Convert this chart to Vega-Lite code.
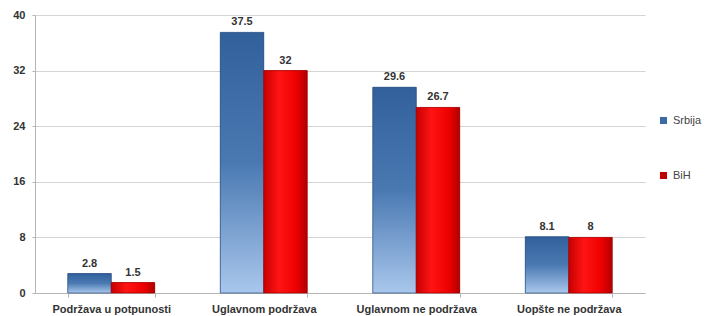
{
  "$schema": "https://vega.github.io/schema/vega-lite/v6.json",
  "width": 610,
  "height": 278,
  "autosize": {"type": "none"},
  "padding": {"left": 35, "top": 15, "right": 60, "bottom": 23},
  "background": "white",
  "config": {
    "view": {"stroke": null},
    "font": "Liberation Sans",
    "axis": {"labelFont": "Liberation Sans", "labelFontWeight": "bold", "labelFontSize": 11, "labelColor": "#333333", "domainColor": "#b5b5b5", "tickColor": "#b5b5b5", "gridColor": "#d4d4d4"}
  },
  "data": {
    "values": [
      {"category": "Podržava u potpunosti", "series": "Srbija", "value": 2.8},
      {"category": "Podržava u potpunosti", "series": "BiH", "value": 1.5},
      {"category": "Uglavnom podržava", "series": "Srbija", "value": 37.5},
      {"category": "Uglavnom podržava", "series": "BiH", "value": 32},
      {"category": "Uglavnom ne podržava", "series": "Srbija", "value": 29.6},
      {"category": "Uglavnom ne podržava", "series": "BiH", "value": 26.7},
      {"category": "Uopšte ne podržava", "series": "Srbija", "value": 8.1},
      {"category": "Uopšte ne podržava", "series": "BiH", "value": 8}
    ]
  },
  "encoding": {
    "x": {
      "field": "category", "type": "nominal", "sort": null, "title": null,
      "scale": {"paddingInner": 0.43, "paddingOuter": 0.215},
      "axis": {"labelAngle": 0, "tickBand": "extent", "tickSize": 4, "labelPadding": 6, "grid": false}
    },
    "xOffset": {"field": "series", "type": "nominal", "sort": ["Srbija", "BiH"], "scale": {"paddingInner": 0}},
    "y": {
      "field": "value", "type": "quantitative", "title": null,
      "scale": {"domain": [0, 40], "nice": false},
      "axis": {"values": [0, 8, 16, 24, 32, 40], "tickSize": 3, "labelPadding": 7, "grid": true}
    }
  },
  "layer": [
    {
      "mark": {"type": "bar"},
      "encoding": {
        "color": {
          "field": "series", "type": "nominal", "sort": ["Srbija", "BiH"], "title": null,
          "scale": {"domain": ["Srbija", "BiH"], "range": ["#3c6aa2", "#c00000"]},
          "legend": {"orient": "none", "legendX": 623, "legendY": 100, "symbolType": "square", "symbolSize": 50, "rowPadding": 43, "labelFont": "Liberation Sans", "labelFontSize": 11, "labelColor": "#444444", "symbolStrokeWidth": 0}
        }
      }
    },
    {
      "transform": [{"filter": "datum.series === 'Srbija'"}],
      "mark": {"type": "bar", "stroke": "#2a4f80", "strokeWidth": 0.7,
        "fill": {"gradient": "linear", "x1": 0, "y1": 0, "x2": 0, "y2": 1,
          "stops": [{"offset": 0, "color": "#31609b"}, {"offset": 0.5, "color": "#4a79b2"}, {"offset": 1, "color": "#a9c7ec"}]}}
    },
    {
      "transform": [{"filter": "datum.series === 'BiH'"}],
      "mark": {"type": "bar", "stroke": "#a00000", "strokeWidth": 0.7,
        "fill": {"gradient": "linear", "x1": 0, "y1": 0, "x2": 1, "y2": 0,
          "stops": [{"offset": 0, "color": "#c80000"}, {"offset": 0.35, "color": "#ff1414"}, {"offset": 0.75, "color": "#ee0000"}, {"offset": 1, "color": "#b00000"}]}}
    },
    {
      "mark": {"type": "text", "baseline": "bottom", "dy": -5, "font": "Liberation Sans", "fontWeight": "bold", "fontSize": 11, "color": "#333333"},
      "encoding": {"text": {"field": "value", "type": "quantitative", "format": ".1~f"}}
    }
  ]
}
